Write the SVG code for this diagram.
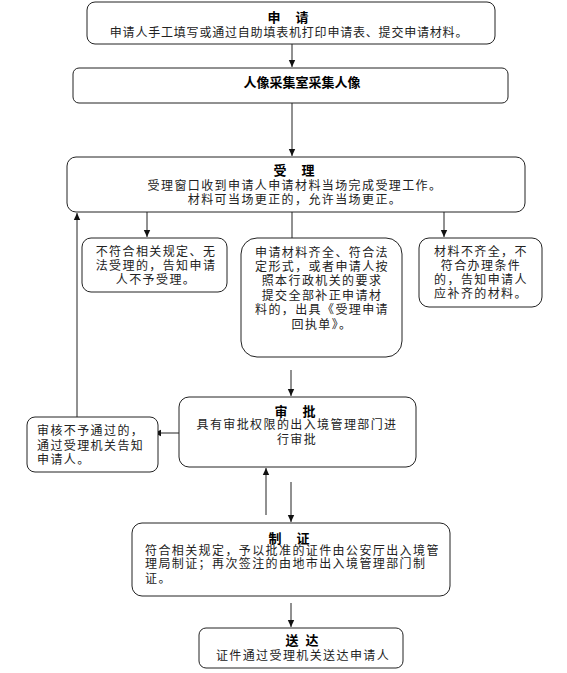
<svg xmlns="http://www.w3.org/2000/svg" width="567" height="673" viewBox="0 0 567 673">
<style>
.b{fill:#fff;stroke:#222;stroke-width:1}
.t{font-family:"Noto Sans CJK SC","Noto Sans",sans-serif;font-size:12px;fill:#222;letter-spacing:1.4px}
.h{font-family:"Noto Sans CJK SC","Noto Sans",sans-serif;font-size:13px;font-weight:bold;fill:#000}
.c{text-anchor:middle}
.l{fill:none;stroke:#222;stroke-width:1}
</style>
<defs>
<marker id="a" markerWidth="8" markerHeight="8" refX="7" refY="4" orient="auto" markerUnits="userSpaceOnUse">
<path d="M0,0.8 L7,4 L0,7.2 Z" fill="#111"/>
</marker>
</defs>
<rect width="567" height="673" fill="#fff"/>
<g id="connectors">
<line class="l" x1="292" y1="44" x2="292" y2="67" marker-end="url(#a)"/>
<line class="l" x1="292" y1="103" x2="292" y2="156" marker-end="url(#a)"/>
<line class="l" x1="147" y1="212" x2="147" y2="237" marker-end="url(#a)"/>
<line class="l" x1="292" y1="212" x2="292" y2="238"/>
<line class="l" x1="444" y1="212" x2="444" y2="237" marker-end="url(#a)"/>
<line class="l" x1="77" y1="417" x2="77" y2="213" marker-end="url(#a)"/>
<line class="l" x1="291" y1="370" x2="291" y2="396" marker-end="url(#a)"/>
<line class="l" x1="179" y1="433" x2="154" y2="433" marker-end="url(#a)"/>
<line class="l" x1="266" y1="515" x2="266" y2="468" marker-end="url(#a)"/>
<line class="l" x1="291" y1="482" x2="291" y2="522" marker-end="url(#a)"/>
<line class="l" x1="291" y1="603" x2="291" y2="627" marker-end="url(#a)"/>
</g>
<g id="n1">
<rect class="b" x="87" y="2" width="408" height="42" rx="8"/>
<text class="t c"><tspan class="h" x="291" y="22" letter-spacing="6">申 请</tspan><tspan x="289" y="37" letter-spacing="0.8">申请人手工填写或通过自助填表机打印申请表、提交申请材料。</tspan></text>
</g>
<g id="n2">
<rect class="b" x="73" y="68" width="435" height="35" rx="6"/>
<text class="h c" x="302" y="87">人像采集室采集人像</text>
</g>
<g id="n3">
<rect class="b" x="67" y="157" width="458" height="55" rx="9"/>
<text class="t c"><tspan class="h" x="297" y="175" letter-spacing="6">受 理</tspan><tspan x="295" y="190">受理窗口收到申请人申请材料当场完成受理工作。</tspan><tspan x="295" y="204">材料可当场更正的，允许当场更正。</tspan></text>
</g>
<g id="n4">
<rect class="b" x="82" y="238" width="145" height="54" rx="9"/>
<text class="t c"><tspan x="156" y="256">不符合相关规定、无</tspan><tspan x="156" y="270">法受理的，告知申请</tspan><tspan x="156" y="284">人不予受理。</tspan></text>
</g>
<g id="n5">
<rect class="b" x="241" y="238" width="161" height="119" rx="16"/>
<text class="t c"><tspan x="322" y="257">申请材料齐全、符合法</tspan><tspan x="322" y="271">定形式，或者申请人按</tspan><tspan x="322" y="285">照本行政机关的要求</tspan><tspan x="322" y="300">提交全部补正申请材</tspan><tspan x="322" y="314">料的，出具《受理申请</tspan><tspan x="322" y="329">回执单》。</tspan></text>
</g>
<g id="n6">
<rect class="b" x="419" y="238" width="123" height="69" rx="10"/>
<text class="t c"><tspan x="481" y="256">材料不齐全，不</tspan><tspan x="481" y="270">符合办理条件</tspan><tspan x="481" y="284">的，告知申请人</tspan><tspan x="481" y="298">应补齐的材料。</tspan></text>
</g>
<g id="n7">
<rect class="b" x="27" y="417" width="131" height="55" rx="8"/>
<text class="t" letter-spacing="0.6"><tspan x="37" y="435">审核不予通过的，</tspan><tspan x="37" y="450">通过受理机关告知</tspan><tspan x="37" y="464">申请人。</tspan></text>
</g>
<g id="n8">
<rect class="b" x="179" y="397" width="237" height="70" rx="10"/>
<text class="t c"><tspan class="h" x="298" y="416" letter-spacing="6">审 批</tspan><tspan x="297" y="429">具有审批权限的出入境管理部门进</tspan><tspan x="297" y="444">行审批</tspan></text>
</g>
<g id="n9">
<rect class="b" x="132" y="523" width="318" height="73" rx="10"/>
<text class="t"><tspan class="h" x="292" y="543" letter-spacing="6" text-anchor="middle">制 证</tspan><tspan x="145" y="555">符合相关规定，予以批准的证件由公安厅出入境管</tspan><tspan x="145" y="568">理局制证；再次签注的由地市出入境管理部门制</tspan><tspan x="145" y="583">证。</tspan></text>
</g>
<g id="n10">
<rect class="b" x="199" y="628" width="204" height="40" rx="7"/>
<text class="t c"><tspan class="h" x="303" y="645" letter-spacing="2">送 达</tspan><tspan x="303" y="660">证件通过受理机关送达申请人</tspan></text>
</g>
</svg>
